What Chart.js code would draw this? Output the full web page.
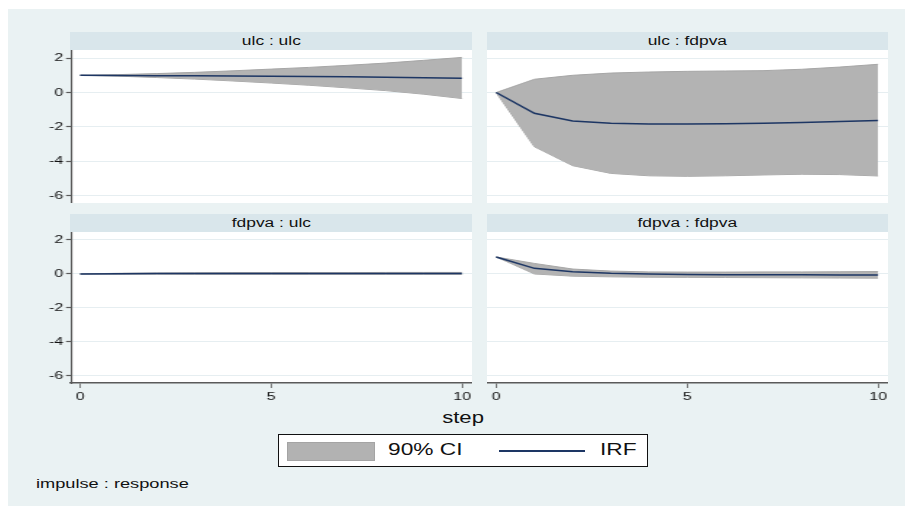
<!DOCTYPE html>
<html>
<head>
<meta charset="utf-8">
<script src="https://cdn.jsdelivr.net/npm/chart.js@4/dist/chart.umd.min.js"></script>
<style>
  body { margin: 0; background: #ffffff; font-family: "Liberation Sans", Arial, sans-serif; }
  #page { position: relative; width: 905px; height: 506px; overflow: hidden; background: #ffffff; }
  #outer { position: absolute; left: 8px; top: 9px; right: 0; bottom: 0; background: #eaf2f3; }
  .head { position: absolute; height: 18px; line-height: 18px; background: #d9e6eb; text-align: center; font-size: 12px; color: #111; }
  .wide { display: inline-block; transform: scaleX(1.45); transform-origin: 50% 50%; white-space: nowrap; }
  .plotbg { position: absolute; background: #ffffff; }
  canvas { position: absolute; transform-origin: 0 0; }
  #step { position: absolute; left: 413px; top: 408px; width: 100px; text-align: center; font-size: 17px; color: #111; }
  #step span { display: inline-block; transform: scaleX(1.3); }
  #legend { position: absolute; left: 278px; top: 434px; width: 368px; height: 31px; background: #fff; border: 1px solid #111; }
  #legend .sw { position: absolute; left: 8px; top: 7px; width: 88px; height: 19px; background: #b2b2b2; border: 1px solid #a4a4a4; box-sizing: border-box; }
  #legend .t { position: absolute; top: 6px; font-size: 16px; color: #111; transform: scaleX(1.42); transform-origin: 0 50%; white-space: nowrap; }
  #legend .ln { position: absolute; left: 220px; top: 15px; width: 86px; height: 2px; background: #1d3664; }
  #note { position: absolute; left: 36px; top: 476px; font-size: 13px; color: #111; transform: scaleX(1.4); transform-origin: 0 50%; white-space: nowrap; }
</style>
</head>
<body>
<div id="page">
  <div id="outer"></div>

  <div class="head" style="left:70px; top:32px; width:402px;"><span class="wide">ulc : ulc</span></div>
  <div class="head" style="left:487px; top:32px; width:401px;"><span class="wide">ulc : fdpva</span></div>
  <div class="head" style="left:70px; top:214px; width:402px;"><span class="wide">fdpva : ulc</span></div>
  <div class="head" style="left:487px; top:214px; width:401px;"><span class="wide">fdpva : fdpva</span></div>

  <div class="plotbg" style="left:71px; top:50px; width:401px; height:153px;"></div>
  <div class="plotbg" style="left:487px; top:50px; width:401px; height:153px;"></div>
  <div class="plotbg" style="left:71px; top:232px; width:401px; height:151px;"></div>
  <div class="plotbg" style="left:487px; top:232px; width:401px; height:151px;"></div>

  <canvas id="c1" style="left:20px; top:50px;"></canvas>
  <canvas id="c2" style="left:487px; top:50px;"></canvas>
  <canvas id="c3" style="left:20px; top:232px;"></canvas>
  <canvas id="c4" style="left:487px; top:232px;"></canvas>

  <div id="step"><span>step</span></div>
  <div id="legend">
    <div class="sw"></div><div class="t" style="left:109px;">90% CI</div>
    <div class="ln"></div><div class="t" style="left:321px;">IRF</div>
  </div>
  <div id="note">impulse : response</div>
</div>

<script>
// Steps and tick labels
const steps = [0, 1, 2, 3, 4, 5, 6, 7, 8, 9, 10];
const xTicks = [0, 5, 10];
const yTicks = [-6, -4, -2, 0, 2];

// ulc : ulc
const ulcUlcIrf = [1, 0.99, 0.98, 0.97, 0.96, 0.95, 0.93, 0.91, 0.89, 0.86, 0.83];
const ulcUlcLo  = [1, 0.95, 0.87, 0.78, 0.67, 0.55, 0.42, 0.27, 0.11, -0.1, -0.35];
const ulcUlcHi  = [1, 1.04, 1.1, 1.17, 1.26, 1.36, 1.46, 1.58, 1.71, 1.87, 2.04];

// ulc : fdpva
const ulcFdpvaIrf = [0, -1.21, -1.66, -1.79, -1.83, -1.83, -1.81, -1.78, -1.74, -1.69, -1.63];
const ulcFdpvaLo  = [0, -3.15, -4.25, -4.7, -4.84, -4.87, -4.84, -4.79, -4.75, -4.77, -4.85];
const ulcFdpvaHi  = [0, 0.77, 1.0, 1.13, 1.19, 1.23, 1.25, 1.27, 1.35, 1.48, 1.64];

// fdpva : ulc
const fdpvaUlcIrf = [0, 0.01, 0.02, 0.03, 0.03, 0.03, 0.03, 0.03, 0.03, 0.03, 0.03];
const fdpvaUlcLo  = [0, -0.02, -0.02, -0.03, -0.03, -0.03, -0.03, -0.03, -0.03, -0.03, -0.03];
const fdpvaUlcHi  = [0, 0.04, 0.06, 0.07, 0.08, 0.08, 0.08, 0.08, 0.09, 0.09, 0.09];

// fdpva : fdpva
const fdpvaFdpvaIrf = [1, 0.33, 0.13, 0.04, 0.0, -0.03, -0.04, -0.05, -0.05, -0.06, -0.06];
const fdpvaFdpvaLo  = [1, 0.0, -0.13, -0.17, -0.19, -0.2, -0.21, -0.22, -0.23, -0.24, -0.25];
const fdpvaFdpvaHi  = [1, 0.62, 0.29, 0.17, 0.12, 0.11, 0.11, 0.12, 0.12, 0.13, 0.14];

const FONT = '"Liberation Sans", Arial, sans-serif';
const AXIS = '#5a5a5a';
const GRID = '#e6eef1';
// the original graph is stretched sideways, so each canvas is drawn narrow and widened
const STRETCH = 1.45;

function pts(ys) {
    return steps.map((s, i) => ({ x: s, y: ys[i] }));
}

function makePanel(id, irf, lo, hi, showY, showX, visW, plotH) {
    const canvas = document.getElementById(id);
    const w = Math.round(visW / STRETCH);
    const sx = visW / w;
    canvas.width = w;
    canvas.height = plotH + (showX ? 25 : 0);
    canvas.style.transform = 'scaleX(' + sx + ')';

    new Chart(canvas, {
        type: 'line',
        data: {
            datasets: [
                {
                    label: 'lo',
                    data: pts(lo),
                    borderColor: '#a6a6a6',
                    borderWidth: 1,
                    pointRadius: 0,
                    fill: false,
                    order: 2
                },
                {
                    label: '90% CI',
                    data: pts(hi),
                    borderColor: '#a6a6a6',
                    borderWidth: 1,
                    backgroundColor: '#b3b3b3',
                    pointRadius: 0,
                    fill: '-1',
                    order: 1
                },
                {
                    label: 'IRF',
                    data: pts(irf),
                    borderColor: '#1d3664',
                    borderWidth: 1.5,
                    pointRadius: 0,
                    fill: false,
                    order: 0
                }
            ]
        },
        options: {
            responsive: false,
            animation: false,
            layout: { padding: 0 },
            plugins: {
                legend: { display: false },
                tooltip: { enabled: false },
                title: { display: false }
            },
            scales: {
                x: {
                    type: 'linear',
                    min: -0.24,
                    max: 10.26,
                    display: showX,
                    afterBuildTicks: function(scale) {
                        scale.ticks = xTicks.map(v => ({ value: v }));
                    },
                    afterFit: function(scale) {
                        if (showX) scale.height = 25;
                        scale.paddingLeft = 0;
                        scale.paddingRight = 0;
                    },
                    grid: {
                        drawOnChartArea: false,
                        drawTicks: true,
                        tickLength: 5,
                        tickColor: AXIS,
                        tickWidth: 0.8
                    },
                    border: { display: true, color: AXIS, width: 1.5 },
                    ticks: {
                        padding: 2,
                        color: '#111',
                        font: { family: FONT, size: 11 },
                        maxRotation: 0
                    }
                },
                y: {
                    type: 'linear',
                    min: -6.42,
                    max: 2.47,
                    afterBuildTicks: function(scale) {
                        scale.ticks = yTicks.map(v => ({ value: v }));
                    },
                    afterFit: function(scale) {
                        scale.width = showY ? 51 / sx : 0;
                        scale.paddingTop = 0;
                        scale.paddingBottom = 0;
                    },
                    grid: {
                        color: GRID,
                        lineWidth: 1,
                        drawTicks: showY,
                        tickLength: 5 / sx,
                        tickColor: AXIS,
                        tickWidth: 1.2
                    },
                    border: { display: showY, color: AXIS, width: 1.1 },
                    ticks: {
                        display: showY,
                        padding: 2,
                        color: '#111',
                        font: { family: FONT, size: 11 }
                    }
                }
            }
        }
    });
}

makePanel('c1', ulcUlcIrf, ulcUlcLo, ulcUlcHi, true, false, 452, 153);
makePanel('c2', ulcFdpvaIrf, ulcFdpvaLo, ulcFdpvaHi, false, false, 401, 153);
makePanel('c3', fdpvaUlcIrf, fdpvaUlcLo, fdpvaUlcHi, true, true, 452, 151);
makePanel('c4', fdpvaFdpvaIrf, fdpvaFdpvaLo, fdpvaFdpvaHi, false, true, 401, 151);
</script>
</body>
</html>
